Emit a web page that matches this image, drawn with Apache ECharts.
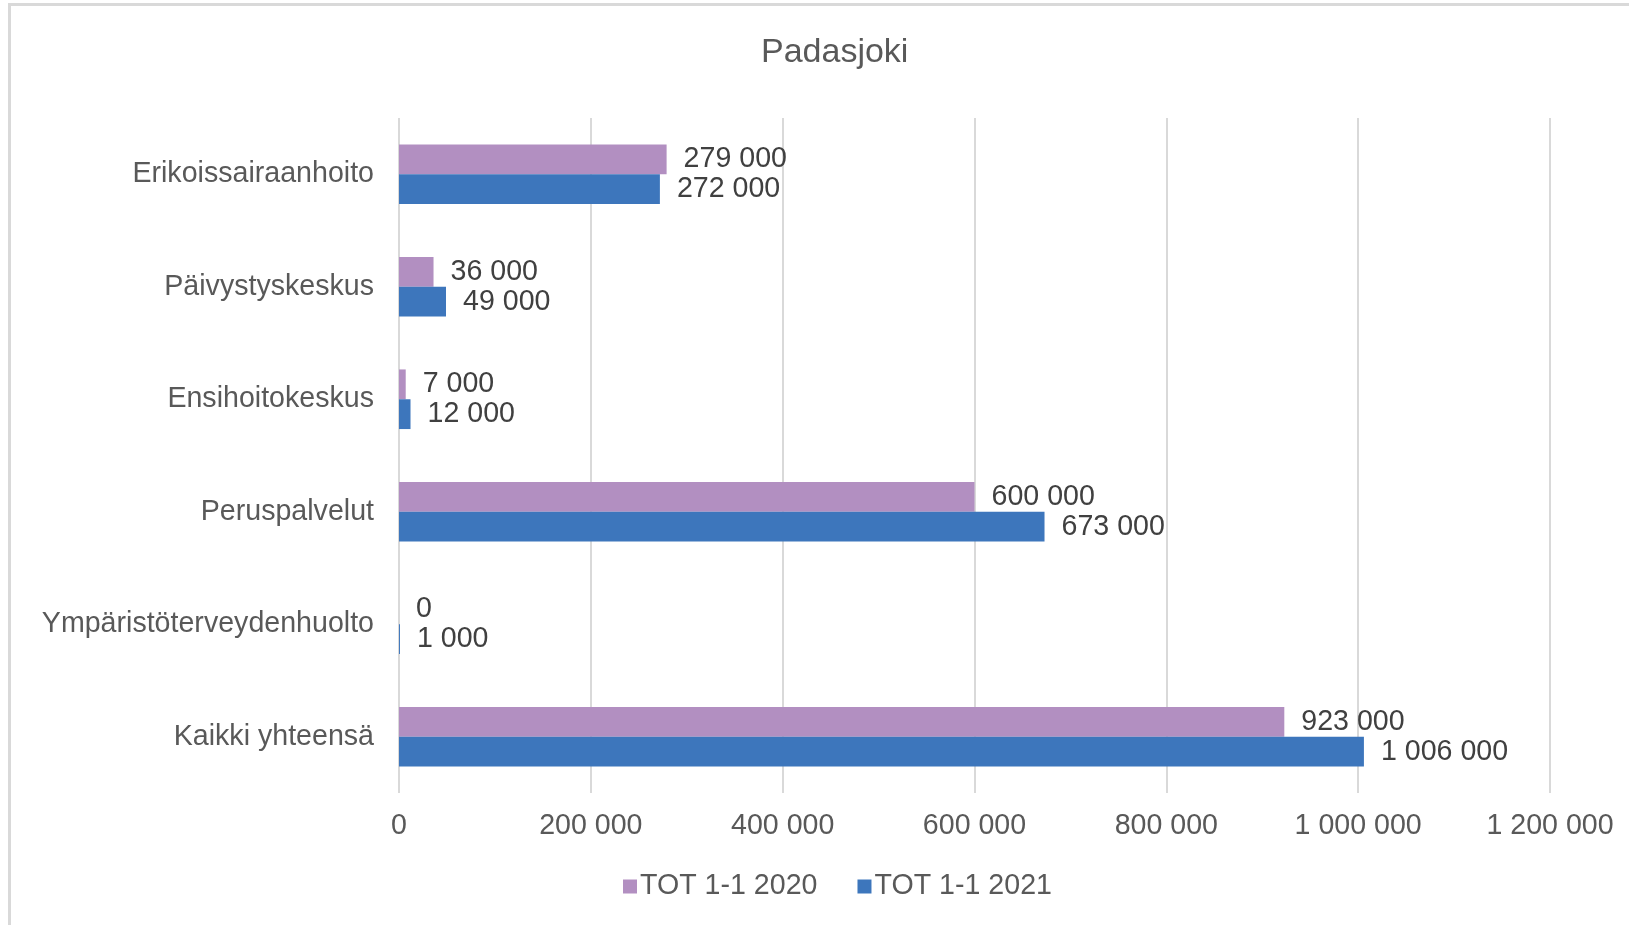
<!DOCTYPE html>
<html>
<head>
<meta charset="utf-8">
<script src="https://cdn.jsdelivr.net/npm/echarts@6/dist/echarts.min.js"></script>
<style>
html,body{margin:0;padding:0;background:#fff;}
#c{width:1629px;height:925px;}
</style>
</head>
<body>
<div id="c"></div>
<script>
const categories = ['Erikoissairaanhoito','Päivystyskeskus','Ensihoitokeskus','Peruspalvelut','Ympäristöterveydenhuolto','Kaikki yhteensä'];
const seriesNames = ['TOT 1-1 2020','TOT 1-1 2021'];
const values2020 = [279000, 36000, 7000, 600000, 0, 923000];
const values2021 = [272000, 49000, 12000, 673000, 1000, 1006000];
const xTicks = {min: 0, max: 1200000, interval: 200000};

const fmt = v => String(v).replace(/\B(?=(\d{3})+(?!\d))/g, ' ');
const FONT = '"Liberation Sans", Arial, sans-serif';
const TXT = '#595959';
const FS = 28.6;

const chart = echarts.init(document.getElementById('c'), null, {renderer: 'canvas'});
chart.setOption({
  backgroundColor: '#fff',
  animation: false,
  title: {
    text: 'Padasjoki', left: 756, top: 31,
    textStyle: {fontFamily: FONT, fontSize: 34, fontWeight: 'normal', color: TXT}
  },
  graphic: [
    {type: 'rect', shape: {x: 8, y: 3, width: 1621, height: 3}, style: {fill: '#D9D9D9'}, silent: true},
    {type: 'rect', shape: {x: 8, y: 3, width: 3, height: 922}, style: {fill: '#D9D9D9'}, silent: true}
  ],
  legend: {
    data: seriesNames, left: 618, top: 867, icon: 'rect',
    itemWidth: 14, itemHeight: 14, itemGap: 40,
    textStyle: {fontFamily: FONT, fontSize: FS, color: TXT, padding: [0, 0, 0, -2]}
  },
  grid: {left: 399, right: 79, top: 118, bottom: 132, containLabel: false},
  xAxis: {
    type: 'value', min: xTicks.min, max: xTicks.max, interval: xTicks.interval,
    axisLine: {show: false}, axisTick: {show: false},
    splitLine: {show: true, lineStyle: {color: '#D9D9D9', width: 2}},
    axisLabel: {fontFamily: FONT, fontSize: FS, color: TXT, margin: 19, formatter: fmt}
  },
  yAxis: {
    type: 'category', data: categories, inverse: true,
    axisLine: {show: false}, axisTick: {show: false},
    axisLabel: {fontFamily: FONT, fontSize: FS, color: TXT, margin: 25, padding: [4, 0, 0, 0]}
  },
  series: [
    {
      name: seriesNames[0], type: 'bar', data: values2020,
      barGap: '0%', barCategoryGap: '47%',
      itemStyle: {color: '#B28FC1'},
      label: {show: true, position: 'right', distance: 17, fontFamily: FONT, fontSize: FS, color: '#404040', padding: [3, 0, 0, 0], formatter: p => fmt(p.value)}
    },
    {
      name: seriesNames[1], type: 'bar', data: values2021,
      barGap: '0%', barCategoryGap: '47%',
      itemStyle: {color: '#3D76BC'},
      label: {show: true, position: 'right', distance: 17, fontFamily: FONT, fontSize: FS, color: '#404040', padding: [3, 0, 0, 0], formatter: p => fmt(p.value)}
    }
  ]
});
</script>
</body>
</html>
